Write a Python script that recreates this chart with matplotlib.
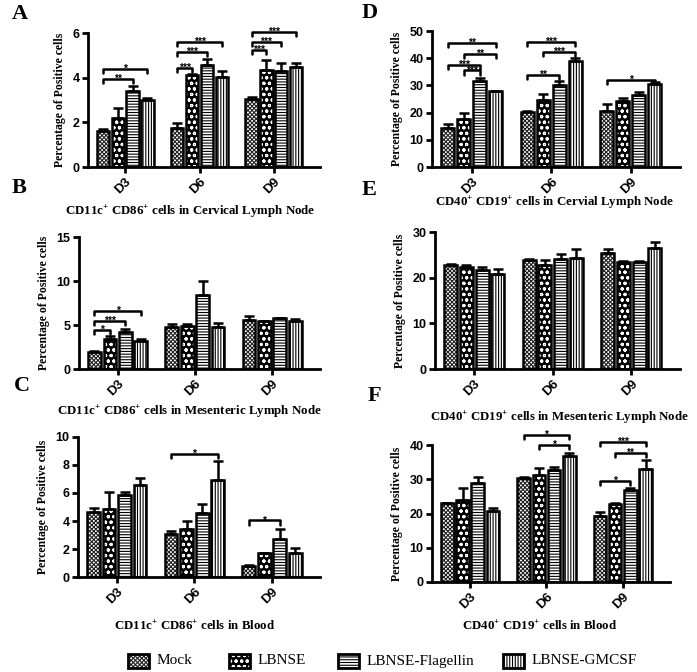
import matplotlib
matplotlib.use("Agg")
import matplotlib.pyplot as plt
import numpy as np
from matplotlib.patches import Rectangle

plt.rcParams['mathtext.fontset'] = 'custom'
plt.rcParams['mathtext.rm'] = 'Liberation Serif:bold'
plt.rcParams['mathtext.bf'] = 'Liberation Serif:bold'
plt.rcParams['hatch.linewidth'] = 0.8

days = ["D3", "D6", "D9"]
groups = ["Mock", "LBNSE", "LBNSE-Flagellin", "LBNSE-GMCSF"]

# values [group][day]
A_mean = [[1.6, 1.75, 3.05], [2.2, 4.1, 4.35], [3.4, 4.55, 4.3], [3.0, 4.05, 4.5]]
A_err = [[0.08, 0.2, 0.1], [0.45, 0.05, 0.45], [0.22, 0.3, 0.35], [0.1, 0.25, 0.15]]
B_mean = [[1.9, 4.8, 5.6], [3.4, 4.85, 5.4], [4.2, 8.4, 5.75], [3.2, 4.75, 5.4]]
B_err = [[0.1, 0.35, 0.4], [0.3, 0.25, 0.1], [0.4, 1.6, 0.1], [0.25, 0.5, 0.3]]
C_mean = [[4.65, 3.1, 0.8], [4.85, 3.45, 1.7], [5.85, 4.55, 2.75], [6.55, 6.9, 1.75]]
C_err = [[0.3, 0.2, 0.05], [1.25, 0.55, 0.05], [0.2, 0.65, 0.65], [0.5, 1.4, 0.35]]
D_mean = [[14.5, 20.2, 20.5], [17.5, 24.5, 24.2], [31.5, 30.0, 26.5], [27.8, 39.0, 30.5]]
D_err = [[1.2, 0.3, 2.5], [2.2, 2.2, 1.2], [1.3, 1.5, 1.2], [0.3, 1.0, 0.8]]
E_mean = [[22.7, 23.8, 25.3], [22.4, 22.8, 23.5], [21.7, 24.0, 23.4], [20.7, 24.3, 26.5]]
E_err = [[0.3, 0.3, 0.9], [0.3, 1.1, 0.2], [0.7, 1.1, 0.3], [1.3, 2.0, 1.3]]
F_mean = [[23.0, 30.3, 19.2], [24.0, 31.3, 22.8], [29.0, 32.8, 27.0], [20.8, 36.8, 33.0]]
F_err = [[0.2, 0.3, 1.2], [3.5, 2.0, 0.3], [1.8, 0.8, 0.3], [0.8, 0.8, 2.6]]

# significance: (day index, bar i, bar j, y, label)
A_sig = [(0, 0, 2, 3.95, "**"), (0, 0, 3, 4.4, "*"),
         (1, 0, 1, 4.42, "***"), (1, 0, 2, 5.17, "***"), (1, 0, 3, 5.6, "***"),
         (2, 0, 1, 5.25, "***"), (2, 0, 2, 5.6, "***"), (2, 0, 3, 6.05, "***")]
B_sig = [(0, 0, 1, 4.4, "*"), (0, 0, 2, 5.5, "***"), (0, 0, 3, 6.6, "*")]
C_sig = [(1, 0, 3, 8.8, "*"), (2, 0, 2, 4.05, "*")]
D_sig = [(0, 1, 2, 35.5, "***"), (0, 0, 2, 37.6, "***"), (0, 1, 3, 41.7, "**"), (0, 0, 3, 45.7, "**"),
         (1, 0, 2, 34.0, "**"), (1, 1, 3, 42.3, "***"), (1, 0, 3, 45.9, "***"),
         (2, 0, 3, 32.0, "*")]
E_sig = []
F_sig = [(1, 1, 3, 40.0, "*"), (1, 0, 3, 42.9, "*"),
         (2, 0, 2, 29.5, "*"), (2, 1, 3, 37.6, "**"), (2, 0, 3, 40.8, "***")]

titles = [r"CD11c$^{+}$ CD86$^{+}$ cells in Cervical Lymph Node",
          r"CD11c$^{+}$ CD86$^{+}$ cells in Mesenteric Lymph Node",
          r"CD11c$^{+}$ CD86$^{+}$ cells in Blood",
          r"CD40$^{+}$ CD19$^{+}$ cells in Cervial Lymph Node",
          r"CD40$^{+}$ CD19$^{+}$ cells in Mesenteric Lymph Node",
          r"CD40$^{+}$ CD19$^{+}$ cells in Blood"]
letters = ["A", "B", "C", "D", "E", "F"]
ymax = [6, 15, 10, 50, 30, 40]
ystep = [2, 5, 2, 10, 10, 10]

W, H = 697, 672
fig = plt.figure(figsize=(W / 100, H / 100), dpi=100)

# axes boxes in pixels: left, right, top, bottom
boxes = [(88, 320, 33, 167), (79, 320, 237, 369), (78, 320, 437, 577),
         (432, 680, 31, 167), (435, 680, 232, 369), (432, 670, 445, 582)]
title_pos = [(190, 212), (189, 412), (195, 626), (555, 203), (560, 418), (540, 626)]
letter_pos = [(12, 14), (12, 188), (14, 386), (362, 13), (362, 190), (368, 396)]

means = [A_mean, B_mean, C_mean, D_mean, E_mean, F_mean]
errs = [A_err, B_err, C_err, D_err, E_err, F_err]
sigs = [A_sig, B_sig, C_sig, D_sig, E_sig, F_sig]

pitch = 0.2
bw = 0.165
styles = [dict(fc="white", hc="#222222", hatch="xxxxxxxx"),
          dict(fc="black", hc="white", hatch="ooo"),
          dict(fc="white", hc="black", hatch="------"),
          dict(fc="white", hc="black", hatch="||||||")]


def draw_bar(ax, x, h, st, lw=1.8):
    ax.bar(x, h, width=bw, color=st["fc"], edgecolor=st["hc"], hatch=st["hatch"], linewidth=0, zorder=2)
    ax.bar(x, h, width=bw, facecolor="none", edgecolor="black", linewidth=lw, zorder=3)


for k in range(6):
    l, r, t, b = boxes[k]
    ax = fig.add_axes([l / W, 1 - b / H, (r - l) / W, (b - t) / H])
    ax.set_xlim(-0.5, 2.62)
    ax.set_ylim(0, ymax[k])
    for s in ["top", "right"]:
        ax.spines[s].set_visible(False)
    for s in ["left", "bottom"]:
        ax.spines[s].set_linewidth(2)
    ax.set_xticks(range(3))
    ax.set_xticklabels(days, rotation=45, fontsize=9.5, fontweight="bold",
                       family="Liberation Sans", ha="right", va="top", rotation_mode="anchor")
    ax.set_yticks(np.arange(0, ymax[k] + 0.001, ystep[k]))
    ax.set_yticklabels([str(int(v)) for v in np.arange(0, ymax[k] + 0.001, ystep[k])],
                       fontsize=9, fontweight="bold", family="Liberation Sans")
    ax.tick_params(width=2, length=4, pad=2)
    ax.set_ylabel("Percentage of Positive cells", family="Liberation Serif", fontsize=8.5,
                  fontweight="bold", labelpad=5)
    for gi in range(4):
        xs = np.arange(3) + (gi - 1.5) * pitch
        hs = np.array(means[k][gi])
        es = np.array(errs[k][gi])
        for x, h in zip(xs, hs):
            draw_bar(ax, x, h, styles[gi])
        ax.errorbar(xs, hs, yerr=[np.zeros(3), es], fmt="none", ecolor="black",
                    elinewidth=1.8, capsize=3.5, capthick=1.8, zorder=4)
    tick = ymax[k] * 0.03
    for (d, i, j, y, lab) in sigs[k]:
        x0 = d + (i - 1.5) * pitch
        x1 = d + (j - 1.5) * pitch
        ax.plot([x0, x0, x1, x1], [y - tick, y, y, y - tick], color="black", lw=1.8,
                clip_on=False, zorder=5, solid_capstyle="round", solid_joinstyle="round")
        ax.annotate(lab, xy=((x0 + x1) / 2, y), xytext=(0, -2.2), textcoords="offset points",
                    ha="center", va="baseline", fontsize=7.5, fontweight="bold",
                    family="Liberation Sans", annotation_clip=False)
    tx, ty = title_pos[k]
    fig.text(tx / W, 1 - ty / H, titles[k], ha="center", va="center", fontsize=9.3,
             family="Liberation Serif", fontweight="bold")
    lx, ly = letter_pos[k]
    fig.text(lx / W, 1 - ly / H, letters[k], ha="left", va="center", fontsize=16,
             family="Liberation Serif", fontweight="bold")

# legend
leg_ax = fig.add_axes([0, 0, 1, 1], facecolor="none")
leg_ax.set_xlim(0, W)
leg_ax.set_ylim(H, 0)
leg_ax.axis("off")
box_x = [128, 229, 338, 503]
for gi in range(4):
    st = styles[gi]
    x = box_x[gi]
    leg_ax.add_patch(Rectangle((x, 654), 21, 14, facecolor=st["fc"], edgecolor=st["hc"],
                               hatch=st["hatch"], linewidth=0))
    leg_ax.add_patch(Rectangle((x, 654), 21, 14, facecolor="none", edgecolor="black", linewidth=2))
    leg_ax.text(x + 29, 661, groups[gi], ha="left", va="center", fontsize=11,
                family="Liberation Serif")

fig.savefig("out.png", dpi=100)
